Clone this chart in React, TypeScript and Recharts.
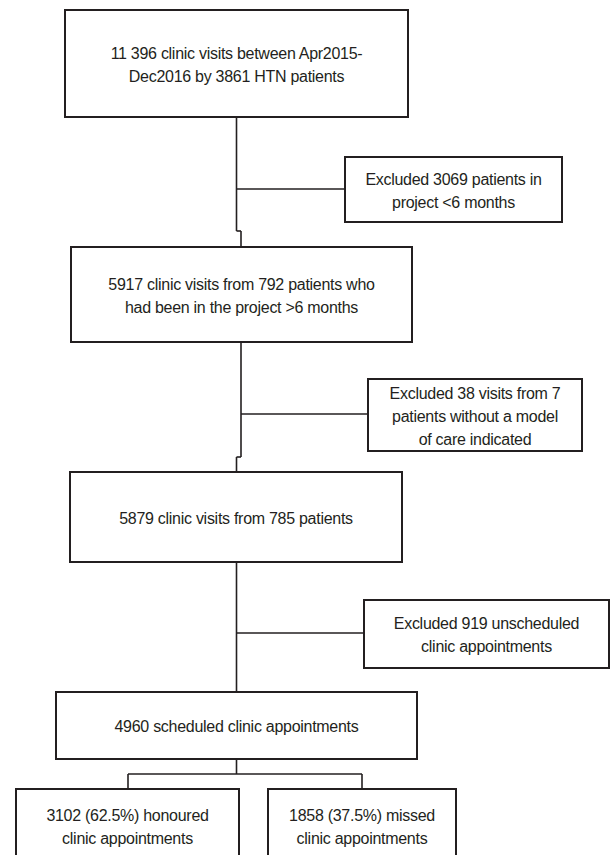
import { ComposedChart, XAxis, YAxis, ReferenceArea, ReferenceLine } from 'recharts'

// flowchart nodes: text lines and box extents (in page pixel units)
const nodeText = [
  ['11 396 clinic visits between Apr2015-', 'Dec2016 by 3861 HTN patients'],
  ['Excluded 3069 patients in', 'project <6 months'],
  ['5917 clinic visits from 792 patients who', 'had been in the project >6 months'],
  ['Excluded 38 visits from 7', 'patients without a model', 'of care indicated'],
  ['5879 clinic visits from 785 patients'],
  ['Excluded 919 unscheduled', 'clinic appointments'],
  ['4960 scheduled clinic appointments'],
  ['3102 (62.5%) honoured', 'clinic appointments'],
  ['1858 (37.5%) missed', 'clinic appointments'],
]
const nodeLeft = [65, 345, 71, 368, 70, 364, 56, 16, 268]
const nodeRight = [408, 562, 412, 582, 402, 609, 417, 239, 456]
const nodeTop = [10, 157, 247, 379, 472, 600, 692, 789, 789]
const nodeBottom = [117, 222, 342, 451, 562, 668, 759, 862, 862]

// connector segments [x1, y1, x2, y2]
const links = [
  [236.5, 117, 236.5, 231],
  [236.5, 231, 241, 231],
  [241, 231, 241, 247],
  [236.5, 189, 345, 189],
  [241, 342, 241, 457],
  [241, 457, 236.5, 457],
  [236.5, 457, 236.5, 472],
  [241, 414, 368, 414],
  [236.5, 562, 236.5, 692],
  [236.5, 633, 364, 633],
  [236.5, 759, 236.5, 774],
  [128, 774, 362, 774],
  [128, 774, 128, 789],
  [362, 774, 362, 789],
]

const W = 611
const H = 855
const INK = '#231f20'

function BoxText({ viewBox, lines }: any) {
  if (!viewBox) return null
  const cx = viewBox.x + viewBox.width / 2
  const cy = viewBox.y + viewBox.height / 2 + 1
  const lh = 23
  const y0 = cy - ((lines.length - 1) * lh) / 2
  return (
    <text
      x={cx}
      textAnchor="middle"
      fontFamily="'Liberation Sans', Arial, sans-serif"
      fontSize={16}
      letterSpacing={-0.28}
      fill={INK}
    >
      {lines.map((l: string, i: number) => (
        <tspan key={i} x={cx} y={y0 + i * lh} dominantBaseline="central">
          {l}
        </tspan>
      ))}
    </text>
  )
}

export default function App() {
  return (
    <div style={{ position: 'absolute', left: 0, top: 0, width: W, height: H, background: '#fff' }}>
      <ComposedChart width={W} height={H} data={[]} margin={{ top: 0, right: 0, bottom: 0, left: 0 }}>
        <XAxis type="number" dataKey="x" domain={[0, W]} hide allowDataOverflow height={0} />
        <YAxis type="number" dataKey="y" domain={[0, H]} reversed hide allowDataOverflow width={0} />
        {links.map((s, i) => (
          <ReferenceLine
            key={'l' + i}
            segment={[{ x: s[0], y: s[1] }, { x: s[2], y: s[3] }]}
            stroke={INK}
            strokeWidth={1.6}
            ifOverflow="visible"
          />
        ))}
        {nodeText.map((lines, i) => (
          <ReferenceArea
            key={'n' + i}
            x1={nodeLeft[i]}
            x2={nodeRight[i]}
            y1={nodeTop[i]}
            y2={nodeBottom[i]}
            fill="#fff"
            fillOpacity={1}
            stroke={INK}
            strokeWidth={2}
            ifOverflow="visible"
            label={{ content: (p: any) => <BoxText viewBox={p.viewBox} lines={lines} /> }}
          />
        ))}
      </ComposedChart>
    </div>
  )
}
